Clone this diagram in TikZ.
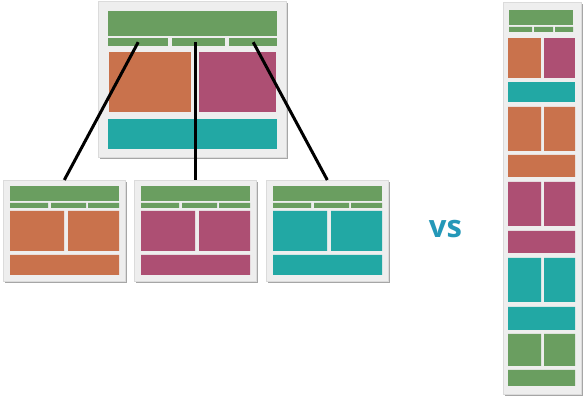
\documentclass[tikz,border=0pt]{standalone}
\usepackage{fontspec}
\setsansfont{Open Sans}
\usetikzlibrary{shadows}
\definecolor{hdgreen}{RGB}{106,158,96}
\definecolor{boxorange}{RGB}{201,114,76}
\definecolor{boxmagenta}{RGB}{173,79,115}
\definecolor{boxteal}{RGB}{34,168,164}
\definecolor{vsblue}{RGB}{36,152,184}
\tikzset{
  page frame/.style={
    rectangle, draw=gray!28, fill=gray!13, anchor=north west,
    inner sep=0pt, line width=0.6pt,
    drop shadow={shadow xshift=1.2pt, shadow yshift=-2pt, fill=black, opacity=0.35}
  },
  nav tile/.style={
    rectangle, fill=hdgreen, anchor=north west, inner sep=0pt
  },
  link line/.style={
    line width=3pt, draw=black
  },
  vs label/.style={
    font=\sffamily\bfseries\fontsize{31}{31}\selectfont, text=vsblue, inner sep=0pt
  }
}
% one small page: name, left edge, colour of its body
\newcommand{\smallpage}[3]{%
  \node[page frame, minimum width=122pt, minimum height=101pt] (#1) at (#2,180) {};
  \begin{scope}[shift={(#2+7,0)}]
    \fill[hdgreen] (0,186) rectangle (109,201);
    \fill[hdgreen] (0,203) rectangle (38,208) (41,203) rectangle (76,208) (78,203) rectangle (109,208);
    \fill[#3] (0,211) rectangle (54,251) (58,211) rectangle (109,251) (0,255) rectangle (109,275);
  \end{scope}}

\begin{document}
\begin{tikzpicture}[x=1pt, y=-1pt]
  \useasboundingbox (0,0) rectangle (584,403);

  % the full page
  \node[page frame, minimum width=188pt, minimum height=156pt] (main) at (98,1) {};
  \fill[hdgreen] (108,11) rectangle (277,36);
  \node[nav tile, minimum width=60pt, minimum height=8pt] (nav1) at (108,38) {};
  \node[nav tile, minimum width=53pt, minimum height=8pt] (nav2) at (172,38) {};
  \node[nav tile, minimum width=48pt, minimum height=8pt] (nav3) at (229,38) {};
  \fill[boxorange] (109,52) rectangle (191,112);
  \fill[boxmagenta] (199,52) rectangle (276,112);
  \fill[boxteal] (108,119) rectangle (277,149);

  % the three split pages
  \smallpage{page1}{3}{boxorange}
  \smallpage{page2}{134}{boxmagenta}
  \smallpage{page3}{266}{boxteal}

  \draw[link line] (nav1.center) -- (page1.north);
  \draw[link line] (page2.north |- nav2.center) -- (page2.north);
  \draw[link line] (nav3.center) -- (page3.north);

  \node[vs label] (vs) at (445.5,229.5) {vs};

  % the long page
  \node[page frame, minimum width=78pt, minimum height=392pt] (long) at (503,2) {};
  \fill[hdgreen] (509,10) rectangle (573,25);
  \fill[hdgreen] (509,27) rectangle (532,32) (534,27) rectangle (553,32) (555,27) rectangle (573,32);
  \fill[boxorange] (508,38) rectangle (541,78);
  \fill[boxmagenta] (544,38) rectangle (575,78);
  \fill[boxteal] (508,82) rectangle (575,102);
  \fill[boxorange] (508,107) rectangle (541,151) (544,107) rectangle (575,151) (508,155) rectangle (575,177);
  \fill[boxmagenta] (508,182) rectangle (541,226) (544,182) rectangle (575,226) (508,231) rectangle (575,253);
  \fill[boxteal] (508,258) rectangle (541,302) (544,258) rectangle (575,302) (508,307) rectangle (575,330);
  \fill[hdgreen] (508,334) rectangle (541,366) (544,334) rectangle (575,366) (508,370) rectangle (575,386);
\end{tikzpicture}
\end{document}
